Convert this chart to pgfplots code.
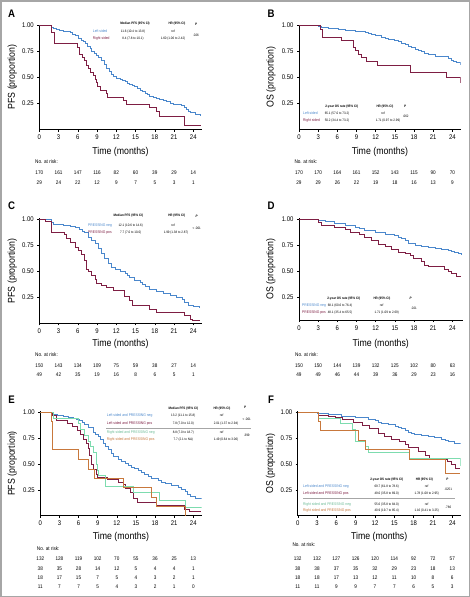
\documentclass[border=0pt]{standalone}
\usepackage{fontspec}
\setmainfont{Liberation Sans}[FakeStretch=0.88]
\usepackage{pgfplots}
\pgfplotsset{compat=1.18}
\definecolor{cblue}{HTML}{4A87CC}
\definecolor{cred}{HTML}{7E1E43}
\definecolor{cgreen}{HTML}{7DDCAF}
\definecolor{corange}{HTML}{C8783C}
\definecolor{cframe}{HTML}{A6A6A6}
\newcommand\rk{\fontsize{5.3}{6}\selectfont}
\newcommand\hd{\fontsize{3.4}{4}\selectfont\bfseries}
\newcommand\lb{\fontsize{3.8}{4}\selectfont}
\newcommand\vl{\fontsize{3.4}{4}\selectfont}
\newcommand\riskrow[4]{\foreach \v [count=\i from 0] in {#4} {\node[font=\rk] at ({#1+3*\i*#2},#3) {\v};}}
\pgfplotsset{km/.style={
  scale only axis, anchor=south west,
  axis x line=bottom, axis y line=left,
  axis line style={-, line width=0.6bp, black},
  xmin=0, xmax=25.3, ymin=0, ymax=1.01,
  xtick={0,3,...,24}, ytick={0.25,0.5,0.75,1},
  yticklabels={0.25,0.50,0.75,1.00},
  /pgf/number format/assume math mode=true,
  tick label style={font=\fontsize{6.8}{7}\selectfont},
  tick align=outside, major tick length=2bp,
  tick style={line width=0.4bp, black},
  label style={font=\fontsize{10}{12}\selectfont},
  xlabel={Time (months)},
  every axis plot/.append style={const plot, line width=0.95bp, no marks},
}}
\begin{document}
\begin{tikzpicture}
\useasboundingbox (0,0) rectangle (470bp,-597bp);
\fill[white] (0,0) rectangle (470bp,-597bp);
\draw[cframe, line width=1.5bp] (0.75bp,-0.75bp) rectangle (469.25bp,-596.25bp);

% ---------- A ----------
\begin{axis}[km, at={(39.3bp,-129.5bp)}, width=162.3bp, height=105bp,
  ylabel={PFS (proportion)},
  xlabel style={at={(axis description cs:0.5,-0.215)},anchor=center},
  ylabel style={at={(axis description cs:-0.167,0.5)},anchor=center}]
\addplot[cblue] coordinates {(0,1.00) (1.9,0.985) (2.2,0.97) (2.6,0.96) (3.2,0.955) (3.7,0.945) (4.3,0.94) (4.8,0.93) (5.2,0.915) (5.6,0.90) (6.1,0.875) (6.5,0.86) (6.9,0.85) (7.2,0.83) (7.5,0.80) (7.9,0.775) (8.2,0.75) (8.6,0.73) (8.9,0.71) (9.3,0.69) (9.7,0.66) (10.1,0.625) (10.5,0.59) (10.9,0.56) (11.2,0.53) (11.6,0.51) (12.0,0.495) (12.6,0.48) (13.0,0.47) (13.4,0.46) (13.8,0.445) (14.1,0.43) (14.5,0.42) (14.9,0.41) (15.3,0.395) (15.7,0.38) (16.1,0.365) (16.5,0.35) (16.9,0.335) (17.2,0.32) (17.8,0.305) (18.3,0.295) (18.8,0.285) (19.3,0.28) (19.9,0.265) (20.4,0.255) (20.9,0.245) (21.4,0.24) (22.2,0.235) (22.6,0.215) (23.0,0.19) (23.3,0.175) (23.6,0.16) (24.3,0.145) (24.8,0.14) (25.2,0.135)};
\addplot[cred] coordinates {(0,1) (1.9,0.93) (2.3,0.83) (5.9,0.79) (6.3,0.72) (6.7,0.69) (7.0,0.66) (7.3,0.62) (7.6,0.59) (8.0,0.55) (8.4,0.52) (8.7,0.48) (8.9,0.45) (9.0,0.41) (9.5,0.38) (10.5,0.345) (10.6,0.31) (13.1,0.28) (13.6,0.24) (17.1,0.21) (18.3,0.17) (18.7,0.13) (22.7,0.04) (25.2,0.04)};
\end{axis}

% ---------- B ----------
\begin{axis}[km, at={(299bp,-129.5bp)}, width=161.7bp, height=105bp,
  ylabel={OS (proportion)},
  xlabel style={at={(axis description cs:0.5,-0.215)},anchor=center},
  ylabel style={at={(axis description cs:-0.173,0.5)},anchor=center}]
\addplot[cblue] coordinates {(0,1) (3.0,0.99) (3.5,0.98) (4.6,0.97) (6.2,0.96) (7.2,0.95) (8.8,0.94) (10.4,0.935) (10.9,0.92) (11.4,0.91) (11.9,0.90) (12.9,0.89) (13.5,0.88) (14.0,0.87) (15.0,0.86) (15.6,0.845) (16.1,0.83) (16.6,0.815) (17.1,0.80) (17.6,0.785) (18.2,0.77) (18.7,0.76) (19.2,0.75) (19.7,0.735) (20.2,0.72) (21.3,0.705) (22.3,0.70) (23.4,0.68) (23.8,0.665) (24.2,0.65) (24.7,0.64) (25.2,0.625)};
\addplot[cred] coordinates {(0,1) (3.3,0.965) (3.65,0.89) (6.6,0.86) (8.5,0.83) (8.55,0.79) (8.9,0.76) (9.3,0.72) (9.8,0.69) (10.6,0.655) (12.3,0.62) (17.5,0.55) (23.1,0.50) (25.2,0.45)};
\end{axis}

% ---------- C ----------
\begin{axis}[km, at={(39.3bp,-323.3bp)}, width=162.3bp, height=105bp,
  ylabel={PFS (proportion)},
  xlabel style={at={(axis description cs:0.5,-0.197)},anchor=center},
  ylabel style={at={(axis description cs:-0.167,0.5)},anchor=center}]
\addplot[cblue] coordinates {(0,1) (1.9,0.97) (2.2,0.955) (3.7,0.945) (4.8,0.93) (5.6,0.92) (6.3,0.90) (6.7,0.885) (7.1,0.87) (7.6,0.83) (8.2,0.80) (8.7,0.77) (9.2,0.72) (9.7,0.67) (10.2,0.62) (10.8,0.575) (11.3,0.54) (11.8,0.52) (12.6,0.50) (13.4,0.48) (13.8,0.46) (14.1,0.44) (14.9,0.41) (15.7,0.39) (16.1,0.37) (16.5,0.356) (17.2,0.33) (18.3,0.31) (19.3,0.285) (20.4,0.263) (21.4,0.25) (21.9,0.245) (22.3,0.225) (22.7,0.205) (23.2,0.175) (24.0,0.165) (25.0,0.15)};
\addplot[cred] coordinates {(0,1) (0.9,0.98) (1.9,0.87) (4.0,0.85) (4.3,0.82) (4.9,0.78) (5.6,0.73) (6.1,0.70) (6.6,0.66) (7.0,0.60) (7.4,0.52) (7.6,0.50) (8.2,0.46) (8.7,0.42) (8.9,0.385) (9.7,0.36) (10.5,0.345) (11.5,0.32) (13.2,0.26) (14.1,0.22) (14.6,0.17) (17.2,0.135) (18.3,0.10) (22.7,0.08) (23.5,0.04) (23.8,0.03) (25.0,0.03)};
\end{axis}

% ---------- D ----------
\begin{axis}[km, at={(299bp,-320bp)}, width=163.6bp, height=102bp, xmax=25.6, ymin=0.03,
  ylabel={OS (proportion)},
  xlabel style={at={(axis description cs:0.5,-0.235)},anchor=center},
  ylabel style={at={(axis description cs:-0.172,0.5)},anchor=center}]
\addplot[cblue] coordinates {(0,1) (3.0,0.99) (4.1,0.978) (5.6,0.96) (7.2,0.94) (8.8,0.92) (9.5,0.905) (10.3,0.89) (11.9,0.87) (13.5,0.85) (15.0,0.84) (15.5,0.825) (16.1,0.81) (16.6,0.79) (17.1,0.77) (18.2,0.75) (19.2,0.74) (20.2,0.725) (21.3,0.72) (22.3,0.71) (23.4,0.70) (23.9,0.69) (24.4,0.68) (25.0,0.665) (25.4,0.655)};
\addplot[cred] coordinates {(0,1) (3.1,0.97) (3.5,0.94) (5.6,0.92) (7.2,0.90) (8.0,0.875) (9.5,0.85) (10.3,0.82) (11.4,0.79) (12.4,0.76) (13.5,0.74) (14.5,0.71) (15.5,0.68) (16.6,0.67) (17.4,0.65) (17.9,0.62) (19.2,0.59) (19.7,0.55) (20.2,0.54) (22.8,0.52) (23.4,0.50) (23.9,0.48) (24.7,0.45) (25.4,0.45)};
\end{axis}

% ---------- E ----------
\begin{axis}[km, at={(40.3bp,-515.7bp)}, width=161.3bp, height=104.4bp,
  ylabel={PFS (proportion)},
  xlabel style={at={(axis description cs:0.5,-0.204)},anchor=center},
  ylabel style={at={(axis description cs:-0.174,0.5)},anchor=center}]
\addplot[cblue] coordinates {(0,1) (1.9,0.98) (2.7,0.97) (3.6,0.96) (4.4,0.95) (5.2,0.94) (5.7,0.93) (6.2,0.92) (6.6,0.90) (7.0,0.88) (7.5,0.85) (8.3,0.81) (8.7,0.79) (9.1,0.77) (9.5,0.735) (9.9,0.70) (10.3,0.67) (10.7,0.64) (11.1,0.605) (11.5,0.57) (12.2,0.54) (12.7,0.525) (13.3,0.51) (13.8,0.49) (14.3,0.47) (14.8,0.455) (15.4,0.44) (15.9,0.42) (16.4,0.40) (17.0,0.38) (17.5,0.36) (18.5,0.34) (19.0,0.325) (19.6,0.31) (20.6,0.29) (21.6,0.27) (22.2,0.255) (22.7,0.235) (23.1,0.21) (23.5,0.185) (24.3,0.17) (25.3,0.16)};
\addplot[cred] coordinates {(0,1) (1.9,0.97) (2.6,0.92) (4.2,0.89) (5.0,0.86) (5.8,0.82) (6.3,0.79) (6.8,0.74) (7.2,0.70) (7.5,0.65) (7.7,0.58) (8.0,0.50) (8.3,0.45) (8.8,0.40) (9.0,0.37) (10.5,0.35) (12.2,0.32) (13.0,0.30) (13.4,0.26) (14.1,0.22) (14.6,0.17) (15.2,0.13) (18.3,0.10) (22.6,0.06) (23.4,0.04) (25.2,0.04)};
\addplot[cgreen] coordinates {(0,1) (2.0,0.94) (6.0,0.89) (6.3,0.83) (7.0,0.78) (7.5,0.72) (7.8,0.67) (8.3,0.61) (8.8,0.50) (9.0,0.44) (9.2,0.39) (10.3,0.28) (14.6,0.225) (18.7,0.15) (22.7,0.08) (25.3,0.08)};
\addplot[corange] coordinates {(0,1) (1.7,0.91) (1.95,0.64) (6.0,0.545) (7.5,0.45) (8.5,0.36) (13.0,0.27) (17.4,0.18) (18.3,0.09) (22.7,0.0)};
\end{axis}

% ---------- F ----------
\begin{axis}[km, at={(297.7bp,-515.7bp)}, width=163bp, height=104.4bp,
  ylabel={OS (proportion)},
  xlabel style={at={(axis description cs:0.5,-0.204)},anchor=center},
  ylabel style={at={(axis description cs:-0.166,0.5)},anchor=center}]
\addplot[cblue] coordinates {(0,1) (3.0,0.99) (4.8,0.98) (6.8,0.96) (8.9,0.95) (11.0,0.93) (12.0,0.92) (12.5,0.905) (13.0,0.89) (14.1,0.88) (15.1,0.86) (15.6,0.85) (16.1,0.84) (16.7,0.825) (17.2,0.81) (17.7,0.80) (18.2,0.79) (19.2,0.775) (20.3,0.765) (21.3,0.755) (22.3,0.74) (22.9,0.725) (23.4,0.715) (24.4,0.70) (25.2,0.69)};
\addplot[cred] coordinates {(0,1) (3.2,0.97) (4.8,0.96) (5.8,0.95) (7.0,0.93) (8.6,0.90) (10.0,0.87) (11.2,0.84) (12.6,0.80) (13.5,0.77) (14.6,0.74) (15.8,0.72) (16.7,0.685) (17.2,0.66) (18.7,0.62) (19.8,0.585) (20.4,0.54) (23.2,0.52) (23.9,0.50) (24.5,0.46) (25.2,0.46)};
\addplot[cgreen] coordinates {(0,1) (3.2,0.945) (6.6,0.89) (8.5,0.83) (9.0,0.72) (10.5,0.67) (11.0,0.61) (17.3,0.555) (25.2,0.48)};
\addplot[corange] coordinates {(0,1) (3.3,0.91) (3.6,0.82) (9.4,0.73) (10.5,0.64) (17.3,0.545) (22.9,0.41) (25.2,0.41)};
\end{axis}

\begin{scope}[x=1bp,y=-1bp]
% panel letters
\foreach \l/\px/\py in {A/11.7/13.3, B/271/13.3, C/11.7/206, D/271/206, E/11.7/399.3, F/271/399.3}
  {\node[font=\fontsize{11}{12}\selectfont\bfseries] at (\px,\py) {\l};}

% ---- table A ----
\node[font=\hd] at (135,24) {Median PFS (95\% CI)};
\node[font=\hd] at (177,24) {HR (95\% CI)};
\node[font=\hd\itshape] at (196,24) {P};
\node[font=\lb,text=cblue,anchor=west,inner sep=0] at (92.7,31.3) {Left sided};
\node[font=\lb,text=cred,anchor=west,inner sep=0] at (92.7,38.7) {Right sided};
\node[font=\vl] at (133,31.3) {11.6 (10.4 to 13.8)};
\node[font=\vl] at (133,38.7) {8.4 (7.8 to 10.1)};
\node[font=\vl] at (173,31.3) {ref};
\node[font=\vl] at (173,38.7) {1.60 (1.06 to 2.42)};
\node[font=\vl] at (196,35) {.026};

% ---- table B ----
\node[font=\hd] at (341.7,106.7) {2-year OS rate (95\% CI)};
\node[font=\hd] at (385,106.7) {HR (95\% CI)};
\node[font=\hd\itshape] at (405,106.7) {P};
\node[font=\lb,text=cblue,anchor=west,inner sep=0] at (303,113.3) {Left sided};
\node[font=\lb,text=cred,anchor=west,inner sep=0] at (303,120.7) {Right sided};
\node[font=\vl] at (337,113.3) {65.1 (57.0 to 73.2)};
\node[font=\vl] at (337,120.7) {50.2 (34.4 to 73.2)};
\node[font=\vl] at (383,113.3) {ref};
\node[font=\vl] at (388,120.7) {1.71 (0.97 to 2.99)};
\node[font=\vl] at (405.7,116.7) {.062};

% ---- table C ----
\node[font=\hd] at (128.3,216) {Median PFS (95\% CI)};
\node[font=\hd] at (176.7,216) {HR (95\% CI)};
\node[font=\hd\itshape] at (196.7,216) {P};
\node[font=\lb,text=cblue,anchor=west,inner sep=0] at (88,225.7) {PRESSING neg};
\node[font=\lb,text=cred,anchor=west,inner sep=0] at (88,232.7) {PRESSING pos};
\node[font=\vl] at (130.7,225.7) {12.1 (10.6 to 14.6)};
\node[font=\vl] at (130.7,232.7) {7.7 (7.0 to 10.0)};
\node[font=\vl] at (173,225.7) {ref};
\node[font=\vl] at (176,232.7) {1.99 (1.38 to 2.87)};
\node[font=\vl] at (196.7,228.5) {< .001};

% ---- table D ----
\node[font=\hd] at (343.7,298.7) {2-year OS rate (95\% CI)};
\node[font=\hd] at (382,298.7) {HR (95\% CI)};
\node[font=\hd\itshape] at (410.7,298.7) {P};
\node[font=\lb,text=cblue,anchor=west,inner sep=0] at (302,305.7) {PRESSING neg};
\node[font=\lb,text=cred,anchor=west,inner sep=0] at (302,312.3) {PRESSING pos};
\node[font=\vl] at (340,305.7) {68.1 (60.6 to 76.4)};
\node[font=\vl] at (340,312.3) {48.1 (35.4 to 65.5)};
\node[font=\vl] at (381.7,305.7) {ref};
\node[font=\vl] at (386.7,312.3) {1.71 (1.09 to 2.69)};
\node[font=\vl] at (414,308) {.021};

% ---- table E ----
\node[font=\hd] at (183.3,409) {Median PFS (95\% CI)};
\node[font=\hd] at (222,409) {HR (95\% CI)};
\node[font=\hd\itshape] at (245,407) {P};
\node[font=\lb,text=cblue,anchor=west,inner sep=0] at (106.7,415.7) {Left sided and PRESSING neg};
\node[font=\lb,text=cred,anchor=west,inner sep=0] at (106.7,423.3) {Left sided and PRESSING pos};
\node[font=\lb,text=cgreen!85!black,anchor=west,inner sep=0] at (106.7,432.3) {Right sided and PRESSING neg};
\node[font=\lb,text=corange,anchor=west,inner sep=0] at (106.7,439.3) {Right sided and PRESSING pos};
\node[font=\vl] at (183.3,415.7) {13.2 (11.1 to 15.8)};
\node[font=\vl] at (183.3,423.3) {7.8 (7.0 to 12.0)};
\node[font=\vl] at (183.3,432.3) {8.8 (7.0 to 18.7)};
\node[font=\vl] at (183.3,439.3) {7.7 (2.1 to NA)};
\node[font=\vl] at (221.7,415.7) {ref};
\node[font=\vl] at (226,423.3) {2.01 (1.37 to 2.94)};
\node[font=\vl] at (221.7,432.3) {ref};
\node[font=\vl] at (226,439.3) {1.49 (0.64 to 3.06)};
\node[font=\vl] at (246.7,419) {< .001};
\node[font=\vl] at (246.7,435.5) {.399};
\draw[gray!70, line width=0.9bp] (106,428.3) -- (251,428.3);

% ---- table F ----
\node[font=\hd] at (386.7,479.3) {2-year OS rate (95\% CI)};
\node[font=\hd] at (424.3,479.3) {HR (95\% CI)};
\node[font=\hd\itshape] at (447.3,479.3) {P};
\node[font=\lb,text=cblue,anchor=west,inner sep=0] at (303,486.3) {Left sided and PRESSING neg};
\node[font=\lb,text=cred,anchor=west,inner sep=0] at (303,493.3) {Left sided and PRESSING pos};
\node[font=\lb,text=cgreen!85!black,anchor=west,inner sep=0] at (303,504.3) {Right sided and PRESSING neg};
\node[font=\lb,text=corange,anchor=west,inner sep=0] at (303,511) {Right sided and PRESSING pos};
\node[font=\vl] at (386.7,486.3) {69.7 (61.8 to 78.6)};
\node[font=\vl] at (386.7,493.3) {49.0 (35.8 to 69.0)};
\node[font=\vl] at (386.7,504.3) {55.6 (35.8 to 84.0)};
\node[font=\vl] at (386.7,511) {40.9 (19.7 to 85.4)};
\node[font=\vl] at (426.7,486.3) {ref};
\node[font=\vl] at (426.7,493.3) {1.78 (1.08 to 2.95)};
\node[font=\vl] at (426.7,504.3) {ref};
\node[font=\vl] at (426.7,511) {1.16 (0.41 to 3.25)};
\node[font=\vl] at (448.3,489) {.0251};
\node[font=\vl] at (448.3,507.5) {.786};
\draw[gray!70, line width=0.9bp] (303,498.7) -- (455,498.7);

% ---- numbers at risk ----
\node[font=\rk,anchor=west,inner sep=0] at (35,162) {No. at risk:};
\riskrow{39.3}{6.417}{172.5}{170,161,147,116,82,60,39,29,14}
\riskrow{39.3}{6.417}{182.5}{29,24,22,12,9,7,5,3,1}

\node[font=\rk,anchor=west,inner sep=0] at (294.3,162) {No. at risk:};
\riskrow{299}{6.39}{172.5}{170,170,164,161,152,143,115,90,70}
\riskrow{299}{6.39}{182.5}{29,29,26,22,19,18,16,13,9}

\node[font=\rk,anchor=west,inner sep=0] at (35,355) {No. at risk:};
\riskrow{39.3}{6.417}{365.5}{150,143,134,109,75,59,38,27,14}
\riskrow{39.3}{6.417}{374.7}{49,42,35,19,16,8,6,5,1}

\node[font=\rk,anchor=west,inner sep=0] at (295,355) {No. at risk:};
\riskrow{299}{6.39}{365.5}{150,150,144,139,132,125,102,80,63}
\riskrow{299}{6.39}{374.7}{49,49,46,44,39,36,29,23,16}

\node[font=\rk,anchor=west,inner sep=0] at (36.7,548.5) {No. at risk:};
\riskrow{40.3}{6.375}{558.7}{132,128,119,102,70,55,36,25,13}
\riskrow{40.3}{6.375}{568.3}{38,35,28,14,12,5,4,4,1}
\riskrow{40.3}{6.375}{577.3}{18,17,15,7,5,4,3,2,1}
\riskrow{40.3}{6.375}{586.7}{11,7,7,5,4,3,2,1,0}

\node[font=\rk,anchor=west,inner sep=0] at (292.3,544.3) {No. at risk:};
\riskrow{297.7}{6.44}{558.7}{132,132,127,126,120,114,92,72,57}
\riskrow{297.7}{6.44}{568.3}{38,38,37,35,32,29,23,18,13}
\riskrow{297.7}{6.44}{577.3}{18,18,17,13,12,11,10,8,6}
\riskrow{297.7}{6.44}{586.7}{11,11,9,9,7,7,6,5,3}
\end{scope}
\end{tikzpicture}
\end{document}
